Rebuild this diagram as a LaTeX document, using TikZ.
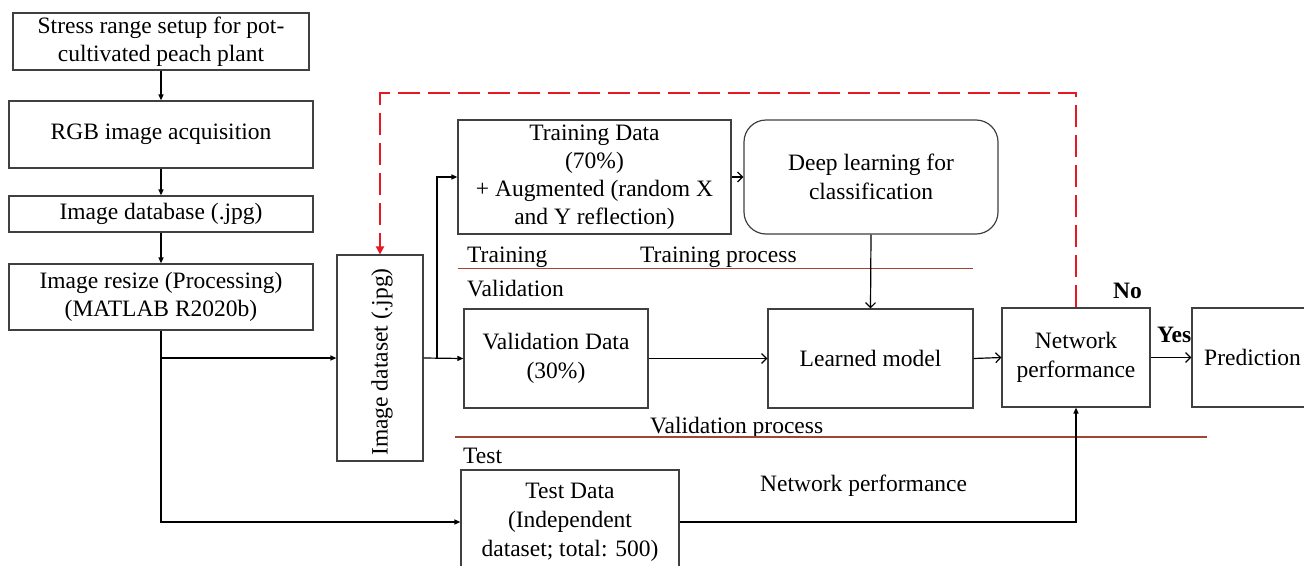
\documentclass[tikz,border=0pt]{standalone}
\usepackage{fontspec}
\setmainfont{Liberation Serif}
\usetikzlibrary{arrows.meta}
\definecolor{sepbrown}{RGB}{160,70,50}
\definecolor{dashred}{RGB}{230,25,35}
\begin{document}
\begin{tikzpicture}[x=1pt,y=-1pt,
  box/.style={draw=black!75, line width=1.2pt, inner sep=0pt, align=center,
    font=\fontsize{23.5}{27.5}\selectfont},
  lbl/.style={inner sep=0pt, anchor=base west, font=\fontsize{23.5}{27.5}\selectfont},
  blbl/.style={lbl, font=\fontsize{23.5}{27.5}\selectfont\bfseries},
  arr/.style={draw=black, line width=1.2pt, -{Triangle[length=6pt,width=5pt]}},
  barb/.style={draw=black, line width=1.2pt, -{Straight Barb[length=5pt,width=10pt,line width=1.2pt]}},
  sep/.style={draw=sepbrown, line width=1.5pt},
  reddash/.style={draw=dashred, line width=2.6pt, dash pattern=on 22pt off 8pt,
    -{Triangle[length=8pt,width=8pt]}}
]
\useasboundingbox (0,0) rectangle (1304,565);
\clip (0,0) rectangle (1304,565);
\fill[white] (0,0) rectangle (1304,565);

% left column
\node[box, minimum width=296pt, minimum height=57pt] (s1) at (161,41.5) {Stress range setup for pot-\\cultivated peach plant};
\node[box, minimum width=304pt, minimum height=67pt] (s2) at (161,134.5) {RGB image acquisition};
\node[box, minimum width=304pt, minimum height=36pt] (s3) at (161,214) {Image database (.jpg)};
\node[box, minimum width=304pt, minimum height=66pt, font=\fontsize{23.5}{28}\selectfont] (s4) at (161,297) {Image resize (Processing)\\(MATLAB R2020b)};

% image dataset
\node[box, minimum width=86pt, minimum height=206pt] (ds) at (380,358) {};
\node[rotate=90, inner sep=0pt, font=\fontsize{23.5}{27.5}\selectfont] (dstext) at (382,362) {Image dataset (.jpg)};

% training / validation / test
\node[box, minimum width=273pt, minimum height=114pt, font=\fontsize{23.5}{28}\selectfont] (tr) at (594.5,177) {Training Data\\(70\%)\\+ Augmented (random X\\and Y reflection)};
\node[box, rounded corners=22pt, minimum width=254pt, minimum height=114pt, font=\fontsize{23.5}{29}\selectfont] (dl) at (871,177) {Deep learning for\\classification};
\node[box, minimum width=184pt, minimum height=99pt, font=\fontsize{23.5}{29}\selectfont] (va) at (556,358.5) {Validation Data\\(30\%)};
\node[box, minimum width=205pt, minimum height=99pt] (lm) at (870.5,358.5) {Learned model};
\node[box, minimum width=148pt, minimum height=99pt, font=\fontsize{23.5}{29}\selectfont] (np) at (1076,357.5) {Network\\performance};
\node[box, minimum width=121pt, minimum height=99pt] (pr) at (1252.5,357.5) {Prediction};
\node[box, minimum width=218pt, minimum height=104pt, font=\fontsize{23.5}{29}\selectfont] (te) at (570,522) {Test Data\\(Independent\\dataset; total: 500)};

% labels
\node[lbl] (ltr) at (467,262) {Training};
\node[lbl] (ltp) at (640,262) {Training process};
\node[lbl] (lva) at (467,296) {Validation};
\node[lbl] (lvp) at (650,433) {Validation process};
\node[lbl] (lte) at (463,463) {Test};
\node[lbl] (lnp) at (760,491) {Network performance};
\node[blbl] (lno) at (1113,298) {No};
\node[blbl] (lyes) at (1157,342) {Yes};

% separators
\draw[sep] (458,268.5) -- (973,268.5);
\draw[sep] (455,437) -- (1207,437);

% connectors
\draw[arr] (s1.south) -- (s2.north);
\draw[arr] (s2.south) -- (s3.north);
\draw[arr] (s3.south) -- (s4.north);
\draw[arr] (s4.south) |- (te.west);
\draw[arr] (s4.south |- ds.west) -- (ds.west);
\coordinate (br) at (437,358);
\draw[arr] (ds.east) -- (va.west);
\draw[arr] (br) |- (tr.west);
\draw[barb] (tr.east) -- (dl.west);
\draw[barb] (dl.south) -- (lm.north);
\draw[barb] (va.east) -- (lm.west);
\draw[barb] (lm.east) -- (np.west);
\draw[barb] (np.east) -- (pr.west);
\draw[arr] (te.east) -| (np.south);
\coordinate (rtop) at (380,93);
\draw[reddash] (np.north) |- (rtop) -- (ds.north);
\end{tikzpicture}
\end{document}
